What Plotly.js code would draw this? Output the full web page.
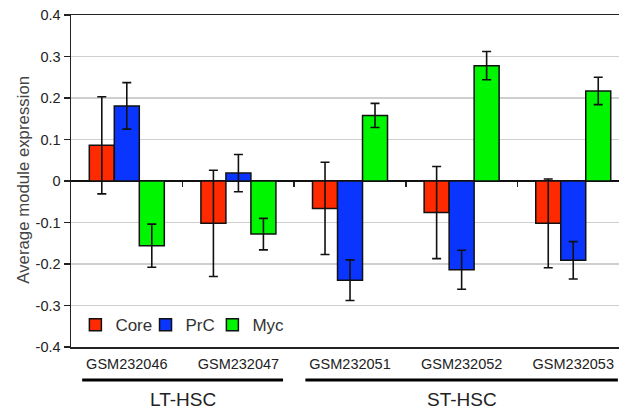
<!DOCTYPE html>
<html>
<head>
<meta charset="utf-8">
<script src="https://cdn.plot.ly/plotly-3.0.1.min.js"></script>
<style>html,body{margin:0;padding:0;background:#fff;}#chart{width:619px;height:415px;}</style>
</head>
<body>
<div id="chart"></div>
<script>
const categories = ['GSM232046', 'GSM232047', 'GSM232051', 'GSM232052', 'GSM232053'];
const seriesNames = ['Core', 'PrC', 'Myc'];
const coreValues = [0.086, -0.102, -0.066, -0.076, -0.102];
const coreErrors = [0.117, 0.128, 0.111, 0.111, 0.107];
const prcValues = [0.181, 0.019, -0.239, -0.214, -0.191];
const prcErrors = [0.056, 0.045, 0.049, 0.047, 0.045];
const mycValues = [-0.156, -0.128, 0.158, 0.278, 0.217];
const mycErrors = [0.052, 0.038, 0.029, 0.034, 0.033];
const groupLabels = ['LT-HSC', 'ST-HSC'];
const groupFirst = [0, 2];
const groupLast = [1, 4];
const yTickVals = [-0.4, -0.3, -0.2, -0.1, 0, 0.1, 0.2, 0.3, 0.4];
const yTickText = ['-0.4', '-0.3', '-0.2', '-0.1', '0', '0.1', '0.2', '0.3', '0.4'];
const yTitle = 'Average module expression';

const colors = ['#FF2A00', '#0A35FF', '#00F500'];
const values = [coreValues, prcValues, mycValues];
const errors = [coreErrors, prcErrors, mycErrors];
const legendIds = ['legend', 'legend2', 'legend3'];

const traces = seriesNames.map((name, i) => ({
  type: 'bar',
  name: name,
  x: categories,
  y: values[i],
  legend: legendIds[i],
  showlegend: true,
  marker: {color: colors[i], line: {color: '#111', width: 1.5}},
  error_y: {type: 'data', array: errors[i], visible: true, color: '#111', thickness: 1.6, width: 4.5},
  hoverinfo: 'skip'
}));
traces.push({type: 'scatter', x: [], y: [], xaxis: 'x2', yaxis: 'y', showlegend: false, hoverinfo: 'skip'});

const boundaryTicks = categories.slice(1).map((c, i) => i + 0.5);
const xRange = [-0.5, 4.41];
const legendFont = {family: 'Liberation Sans, Arial, sans-serif', size: 17, color: '#333'};
const legendBase = {orientation: 'h', yanchor: 'middle', xanchor: 'left', y: 0.066, font: legendFont,
  bgcolor: 'rgba(0,0,0,0)', borderwidth: 0, itemclick: false, itemdoubleclick: false};

const shapes = groupLabels.map((g, i) => ({
  type: 'line', xref: 'x', yref: 'paper',
  x0: groupFirst[i] - 0.4, x1: groupLast[i] + 0.4, y0: -0.0994, y1: -0.0994,
  line: {color: '#000', width: 3}
}));
const annotations = groupLabels.map((g, i) => ({
  text: g, xref: 'x', yref: 'paper', x: (groupFirst[i] + groupLast[i]) / 2, y: -0.157,
  xanchor: 'center', yanchor: 'middle', showarrow: false,
  font: {family: 'Liberation Sans, Arial, sans-serif', size: 19, color: '#222'}
}));
annotations.push({
  text: yTitle, xref: 'paper', yref: 'paper', x: -0.087, y: 0.505, textangle: -90,
  xanchor: 'center', yanchor: 'middle', showarrow: false,
  font: {family: 'Liberation Sans, Arial, sans-serif', size: 16.8, color: '#444'}
});

const layout = {
  width: 619, height: 415,
  showlegend: true,
  margin: {l: 71, r: 0, t: 15, b: 68},
  paper_bgcolor: '#fff', plot_bgcolor: '#fff',
  barmode: 'group', bargap: 0.328, bargroupgap: 0,
  font: {family: 'Liberation Sans, Arial, sans-serif', color: '#222'},
  xaxis: {
    type: 'category', range: xRange, showgrid: false, zeroline: false,
    showline: true, mirror: true, linecolor: '#222', linewidth: 1.5,
    ticks: '', ticklabelstandoff: 3,
    tickfont: {family: 'Liberation Sans, Arial, sans-serif', size: 14.5, color: '#222'}
  },
  xaxis2: {
    type: 'linear', overlaying: 'x', anchor: 'free', position: 0.5, range: xRange,
    tickmode: 'array', tickvals: boundaryTicks, ticks: 'outside', ticklen: 5, tickwidth: 1.5,
    tickcolor: '#222', showticklabels: false, showgrid: false, zeroline: false, showline: false
  },
  yaxis: {
    range: [-0.4, 0.4], tickmode: 'array', tickvals: yTickVals, ticktext: yTickText,
    showgrid: true, gridcolor: '#cfcfcf', gridwidth: 1.3,
    zeroline: true, zerolinecolor: '#111', zerolinewidth: 1.5,
    showline: true, linecolor: '#222', linewidth: 1.5,
    ticks: 'outside', ticklen: 6, tickwidth: 1.5, tickcolor: '#222',
    tickfont: {family: 'Liberation Sans, Arial, sans-serif', size: 14.5, color: '#222'}
  },
  legend: Object.assign({}, legendBase, {x: 0.008}),
  legend2: Object.assign({}, legendBase, {x: 0.136}),
  legend3: Object.assign({}, legendBase, {x: 0.258}),
  shapes: shapes,
  annotations: annotations
};

Plotly.newPlot('chart', traces, layout, {displayModeBar: false, staticPlot: true});
</script>
</body>
</html>
